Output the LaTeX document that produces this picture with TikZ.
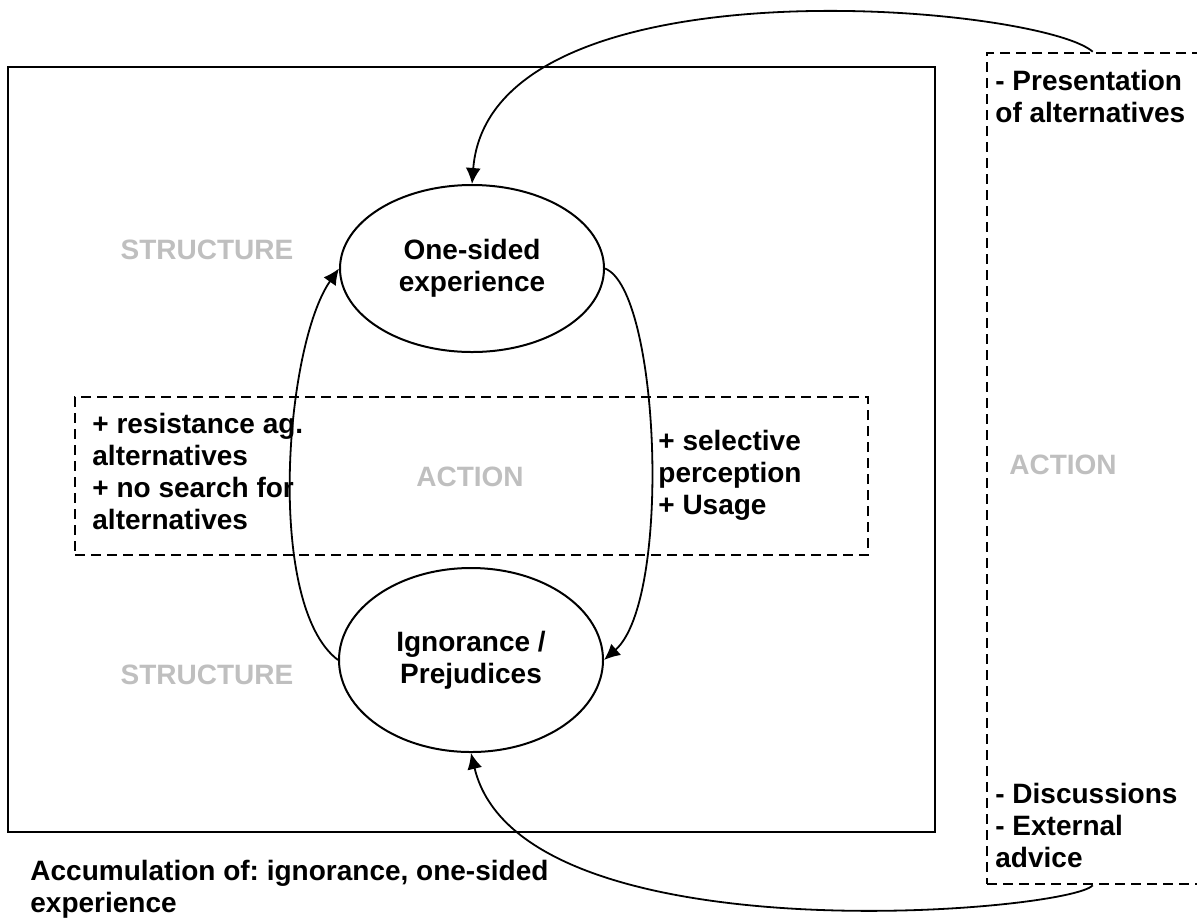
\documentclass[tikz,border=0pt]{standalone}
\usepackage{fontspec}
\setmainfont{Liberation Sans}
\frenchspacing
\definecolor{LabelGray}{HTML}{BFBFBF}
\definecolor{LineBlack}{HTML}{000000}
\usetikzlibrary{arrows.meta,shapes.geometric}
\tikzset{
  txt/.style={font=\fontsize{14}{16}\selectfont\bfseries, align=left, inner sep=0pt},
  grayTxt/.style={txt, text=LabelGray},
  frameBox/.style={draw=LineBlack, line width=1pt, inner sep=0pt},
  actionBox/.style={draw=LineBlack, line width=1.3pt, dash pattern=on 5pt off 3pt, inner sep=0pt},
  stateNode/.style={ellipse, draw=LineBlack, line width=1pt, fill=white, inner sep=0pt, minimum width=132pt, align=center, font=\fontsize{14}{16}\selectfont\bfseries},
  loopEdge/.style={-{Latex[length=8pt,width=7.5pt]}, line width=0.9pt, draw=LineBlack}
}
\begin{document}
\begin{tikzpicture}[x=0.5pt, y=-0.5pt]
\useasboundingbox (0,0) rectangle (1197,922);
\clip (0,0) rectangle (1197,922);
\node[frameBox, minimum width=463.5pt, minimum height=382.5pt] (structureFrame) at (471.5,449.5) {};
\node[actionBox, minimum width=396.5pt, minimum height=79pt] (innerAction) at (471.5,476) {};
\node[actionBox, minimum width=130pt, minimum height=415.5pt] (outerAction) at (1117,468.5) {};
\node[stateNode, minimum height=83.5pt] (oneSided) at (472,268.5) {One-sided\\experience};
\node[stateNode, minimum height=92pt] (ignorance) at (471,660) {Ignorance /\\Prejudices};
\node[grayTxt] (structTop) at (207,250) {STRUCTURE};
\node[grayTxt] (structBottom) at (207,675) {STRUCTURE};
\node[grayTxt] (actionInner) at (470,477) {ACTION};
\node[grayTxt] (actionOuter) at (1063,465) {ACTION};
\node[txt, anchor=west] (resistText) at (92,471.5) {+ resistance ag.\\alternatives\\+ no search for\\alternatives};
\node[txt, anchor=west] (usageText) at (658,475) {+ selective\\perception\\+ Usage};
\node[txt, anchor=west] (presentText) at (995,96) {- Presentation\\of alternatives};
\node[txt, anchor=west] (discussText) at (995,825) {- Discussions\\- External\\advice};
\node[txt, anchor=west] (accumText) at (30,889) {Accumulation of: ignorance, one-sided\\experience};
\draw[loopEdge] (ignorance.west) .. controls (265,605) and (285,345) .. (oneSided.west);
\draw[loopEdge] (oneSided.east) .. controls (660,290) and (672,600) .. (ignorance.east);
\draw[loopEdge] ([xshift=53.5pt]outerAction.north west) .. controls (1040,5) and (490,-45) .. (oneSided.north);
\draw[loopEdge] ([xshift=53.5pt]outerAction.south west) .. controls (1070,912) and (520,960) .. (ignorance.south);
\end{tikzpicture}
\end{document}
